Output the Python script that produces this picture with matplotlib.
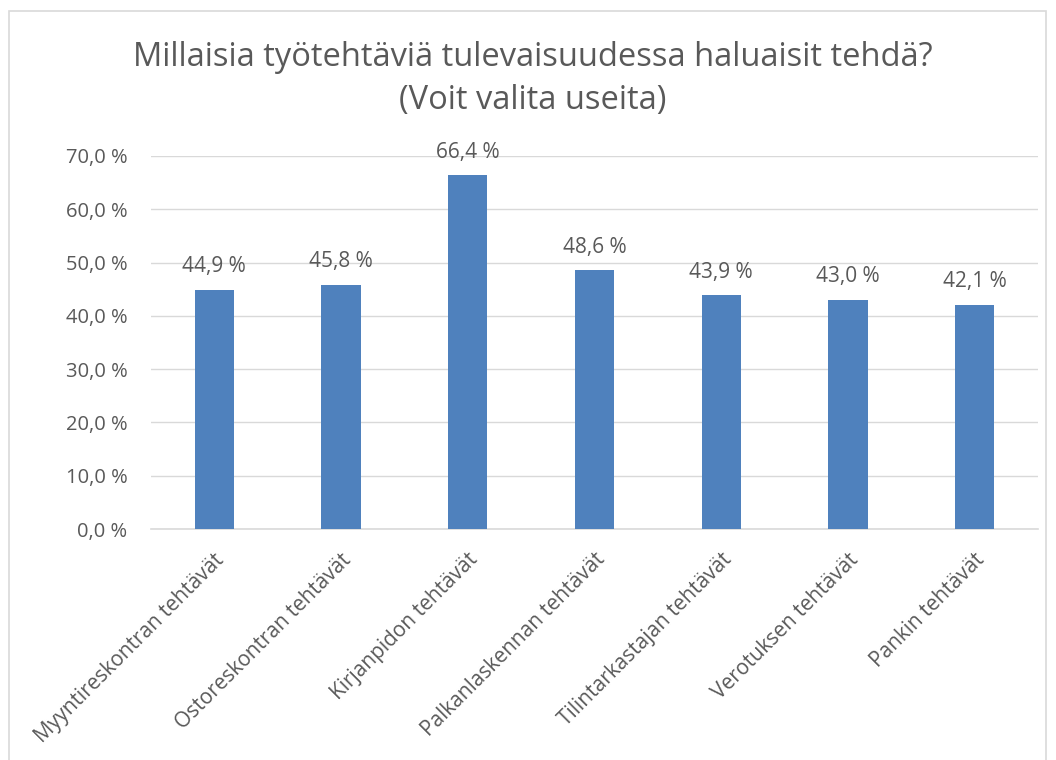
import matplotlib
matplotlib.use("Agg")
import matplotlib.pyplot as plt
from matplotlib.patches import Rectangle

categories = ["Myyntireskontran tehtävät", "Ostoreskontran tehtävät", "Kirjanpidon tehtävät",
              "Palkanlaskennan tehtävät", "Tilintarkastajan tehtävät", "Verotuksen tehtävät",
              "Pankin tehtävät"]
values = [44.9, 45.8, 66.4, 48.6, 43.9, 43.0, 42.1]
yticks = [0, 10, 20, 30, 40, 50, 60, 70]
title_lines = ["Millaisia työtehtäviä tulevaisuudessa haluaisit tehdä?", "(Voit valita useita)"]

plt.rcParams['font.family'] = ['Open Sans', 'DejaVu Sans']
txt = "#595959"
W, H = 1056, 760
fig = plt.figure(figsize=(W / 100, H / 100), dpi=100)

# chart border
fig.patches.append(Rectangle((9 / W, 1 - 800 / H), (1046 - 9) / W, (800 - 11) / H,
                             transform=fig.transFigure, fill=False, edgecolor="#D9D9D9", lw=1.2))

left, right, top, bottom = 151, 1038, 156, 529
ax = fig.add_axes([left / W, 1 - bottom / H, (right - left) / W, (bottom - top) / H])
x = list(range(len(categories)))
bars = ax.bar(x, values, width=0.31, color="#4F81BD", zorder=3)
ax.set_xlim(-0.5, len(categories) - 0.5)
ax.set_ylim(0, 70)
ax.set_yticks(yticks)
ax.set_yticklabels([f"{v:.1f} %".replace(".", ",") for v in yticks], fontsize=14.5, color=txt)
ax.yaxis.grid(True, color="#D9D9D9", lw=1, zorder=0)
ax.tick_params(axis="y", length=0, pad=17)
ax.tick_params(axis="x", length=0)
for s in ["top", "right", "left"]:
    ax.spines[s].set_visible(False)
ax.spines["bottom"].set_color("#D9D9D9")
ax.spines["bottom"].set_linewidth(1.2)
ax.set_xticks(x)
ax.set_xticklabels([])
for xi, c in zip(x, categories):
    ax.annotate(c, xy=(xi, 0), xytext=(5, -20), textcoords="offset points",
                rotation=45, rotation_mode="anchor", ha="right", va="center",
                fontsize=15, color=txt)
for xi, v in zip(x, values):
    ax.annotate(f"{v:.1f} %".replace(".", ","), xy=(xi, v), xytext=(0, 9),
                textcoords="offset points", ha="center", va="bottom", fontsize=15, color=txt)

fig.text(533 / W, 1 - 66 / H, title_lines[0], ha="center", va="baseline", fontsize=23.5, color=txt)
fig.text(533 / W, 1 - 109 / H, title_lines[1], ha="center", va="baseline", fontsize=23.5, color=txt)
fig.savefig("out.png", dpi=100)
